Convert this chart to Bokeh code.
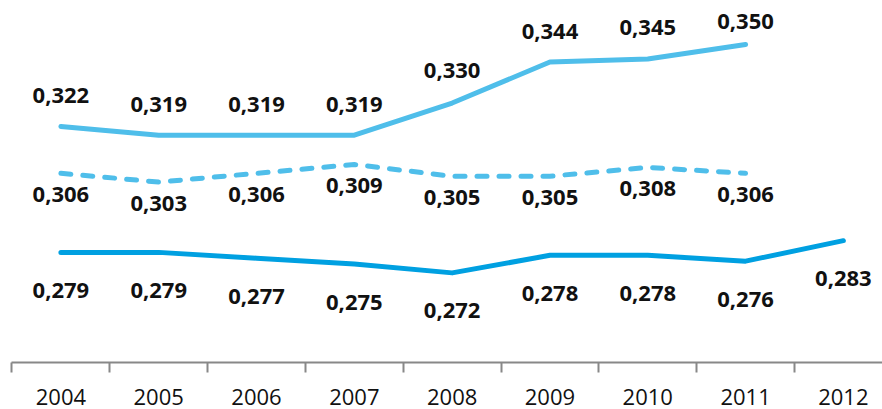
from bokeh.plotting import figure
from bokeh.models import Range1d, FixedTicker, ColumnDataSource
from bokeh.core.properties import value
from bokeh.embed import file_html
from bokeh.resources import INLINE

years = ["2004", "2005", "2006", "2007", "2008", "2009", "2010", "2011", "2012"]
series_top = [0.322, 0.319, 0.319, 0.319, 0.330, 0.344, 0.345, 0.350]
series_dashed = [0.306, 0.303, 0.306, 0.309, 0.305, 0.305, 0.308, 0.306]
series_bottom = [0.279, 0.279, 0.277, 0.275, 0.272, 0.278, 0.278, 0.276, 0.283]

# label offsets (screen px, positive = down)
top_label_offsets = [-31, -31, -31, -31, -33, -31, -32, -23]
dashed_label_offset = 21
bottom_label_offset = 38

LIGHT = "#4FBEEA"
DARK = "#00A0E1"
AXIS = "#888888"

def fmt(v):
    return f"{v:.3f}".replace(".", ",")

p = figure(width=882, height=409,
           x_range=Range1d(-0.505, 8.40), y_range=Range1d(0.2414, 0.3650),
           output_backend="svg", toolbar_location=None,
           min_border_left=11, min_border_right=0, min_border_top=0, min_border_bottom=47,
           y_axis_location=None)
p.outline_line_color = None
p.xgrid.visible = False
p.ygrid.visible = False
p.background_fill_color = "white"
p.border_fill_color = "white"

series = [
    (series_top, LIGHT, None, top_label_offsets),
    (series_dashed, LIGHT, "10 12", [dashed_label_offset] * len(series_dashed)),
    (series_bottom, DARK, None, [bottom_label_offset] * len(series_bottom)),
]
for vals, color, dash, offs in series:
    xs = list(range(len(vals)))
    src = ColumnDataSource(dict(x=xs, y=vals, t=[fmt(v) for v in vals], off=offs))
    kw = dict(line_color=color, line_width=5, line_cap="round", line_join="round")
    if dash:
        kw["line_dash"] = dash
    p.line("x", "y", source=src, **kw)
    p.text("x", "y", text="t", source=src, y_offset="off",
           text_font=value("Open Sans"), text_font_style="bold",
           text_font_size="22px", text_color="#111111",
           text_align="center", text_baseline="middle")

ax = p.xaxis[0]
ax.ticker = FixedTicker(ticks=list(range(len(years))),
                        minor_ticks=[i - 0.5 for i in range(len(years) + 1)])
ax.major_label_overrides = {i: y for i, y in enumerate(years)}
ax.major_tick_out = 0
ax.major_tick_in = 0
ax.minor_tick_out = 10
ax.minor_tick_in = 0
ax.minor_tick_line_color = AXIS
ax.minor_tick_line_width = 2
ax.axis_line_color = AXIS
ax.axis_line_width = 2
ax.major_label_text_font = "Open Sans"
ax.major_label_text_font_size = "22px"
ax.major_label_text_color = "#111111"
ax.major_label_standoff = 16

open("out.html", "w").write(file_html(p, INLINE))
